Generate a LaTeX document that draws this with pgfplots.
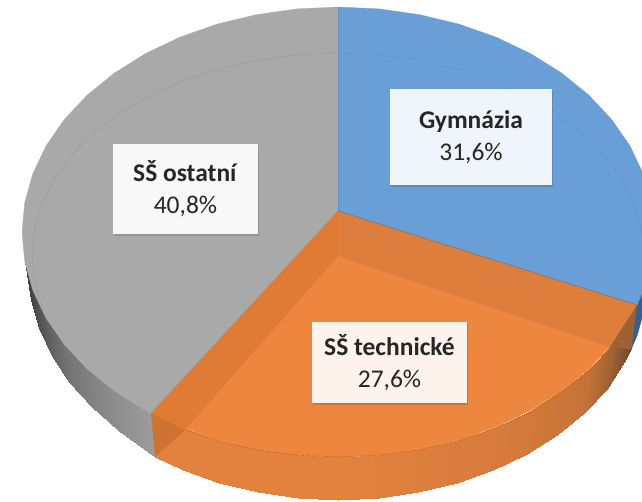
\documentclass[border=0pt]{standalone}
\usepackage{fontspec}
\setmainfont{Carlito}
\usepackage{pgfplots}
\pgfplotsset{compat=1.18}
\usepgfplotslibrary{patchplots}
\usetikzlibrary{shadows}
\definecolor{pieBlue}{HTML}{699FD6}
\definecolor{pieBlueRing}{HTML}{5F96CF}
\definecolor{pieBlueSide}{HTML}{34618F}
\definecolor{pieGray}{HTML}{A9A9A9}
\definecolor{pieGrayRing}{HTML}{9C9C9C}
\definecolor{pieOrange}{HTML}{ED873F}
\definecolor{pieBandL}{HTML}{E07B35}
\definecolor{pieBandR}{HTML}{DD7E3C}
\definecolor{pieRim}{HTML}{D06A22}
\definecolor{pieWallL}{HTML}{CE7231}
\definecolor{pieWallR}{HTML}{9C6236}
\pgfplotsset{
  colormap={sideGray}{rgb255=(64,64,64) rgb255=(156,156,156)},
  colormap={sideOrange}{rgb255=(110,75,45) rgb255=(197,114,56) rgb255=(226,130,62)},
  sideFace/.style={patch, patch type=rectangle, shader=interp, point meta=explicit,
    point meta min=0, point meta max=1}
}
\newcommand{\pielabel}[5]{%
  \node[fill=#1, minimum width=#2pt, minimum height=#3pt, inner sep=0pt, align=center,
    text=black!85, font=\fontsize{25.5}{32}\selectfont,
    drop shadow={shadow xshift=1pt, shadow yshift=-1.5pt, fill=black, opacity=0.13}]
    at (axis cs:#4) {#5};}
\begin{document}
\begin{tikzpicture}
\begin{axis}[
  scale only axis, width=642pt, height=501pt,
  xmin=0, xmax=642, ymin=0, ymax=501, y dir=reverse,
  axis line style={draw=none}, ticks=none
]
% side of the disc, gray part
\addplot[sideFace, colormap name=sideGray] table[meta=c] {
x y c
151 413.3 1
114.6 391.1 .85
118.8 431 .85
155 457 1
114.6 391.1 .85
87.3 369 .7
92 406.5 .7
118.8 431 .85
87.3 369 .7
64.3 344.5 .55
69.5 382 .55
92 406.5 .7
64.3 344.5 .55
46 318.1 .35
51.6 355.5 .35
69.5 382 .55
46 318.1 .35
32.8 290.2 .15
38.6 328 .15
51.6 355.5 .35
32.8 290.2 .15
24.7 261.4 0
30.7 300 0
38.6 328 .15
};
% side of the disc, orange part
\addplot[sideFace, colormap name=sideOrange] table[meta=c] {
x y c
637 305 0
630 318.1 .08
624.4 362.3 .08
631.3 349.3 0
630 318.1 .08
611.7 344.5 .3
606.5 388.5 .3
624.4 362.3 .08
611.7 344.5 .3
588.7 369 .5
584 412.8 .5
606.5 388.5 .3
588.7 369 .5
561.4 391.1 .62
557.2 434.7 .62
584 412.8 .5
561.4 391.1 .62
530.4 410.5 .72
526.7 453.9 .72
557.2 434.7 .62
530.4 410.5 .72
496 426.9 .8
493 470.1 .8
526.7 453.9 .72
496 426.9 .8
458.9 439.9 .85
456.6 483 .85
493 470.1 .8
458.9 439.9 .85
419.8 449.3 .9
418.2 492.4 .9
456.6 483 .85
419.8 449.3 .9
379.2 455.1 .95
378.5 498.1 .95
418.2 492.4 .9
379.2 455.1 .95
338 457 1
338 500 1
378.5 498.1 .95
338 457 1
296.8 455.1 1
297.5 498.1 1
338 500 1
296.8 455.1 1
256.2 449.3 1
257.8 492.4 1
297.5 498.1 1
256.2 449.3 1
217.1 439.9 1
219.4 483 1
257.8 492.4 1
217.1 439.9 1
180 426.9 1
183 470.1 1
219.4 483 1
180 426.9 1
151 413.3 1
155 457 1
183 470.1 1
};
% side of the disc, blue part
\addplot[fill=pieBlueSide, draw=pieBlueSide, line width=0.3pt] coordinates {
  (654,232) (651.3,261.4) (643.2,290.2) (637,305)
  (631.3,349.3) (637.4,334.7) (645.3,306.1) (648,277)
} -- cycle;
% top faces
\addplot[fill=pieBlue, draw=pieBlue, line width=0.3pt] coordinates {
  (338,211) (338,7) (379.2,8.9) (419.8,14.7) (458.9,24.1) (496,37.1) (530.4,53.5)
  (561.4,72.9) (588.7,95) (611.7,119.5) (630,145.9) (643.2,173.8) (651.3,202.6)
  (654,232) (651.3,261.4) (643.2,290.2) (637,305)
} -- cycle;
\addplot[fill=pieGray, draw=pieGray, line width=0.3pt] coordinates {
  (338,211) (151,413.3) (145.6,410.5) (114.6,391.1) (87.3,369) (64.3,344.5) (46,318.1)
  (32.8,290.2) (24.7,261.4) (22,232) (24.7,202.6) (32.8,173.8) (46,145.9) (64.3,119.5)
  (87.3,95) (114.6,72.9) (145.6,53.5) (180,37.1) (217.1,24.1) (256.2,14.7) (296.8,8.9)
  (338,7)
} -- cycle;
\addplot[fill=pieOrange, draw=pieOrange, line width=0.3pt] coordinates {
  (338,211) (637,305) (630,318.1) (611.7,344.5) (588.7,369) (561.4,391.1) (530.4,410.5)
  (496,426.9) (458.9,439.9) (419.8,449.3) (379.2,455.1) (338,457) (296.8,455.1)
  (256.2,449.3) (217.1,439.9) (180,426.9) (151,413.3)
} -- cycle;
% darker bands of the orange slice, where its walls show through
\addplot[fill=pieBandL, draw=none] coordinates {(338,211) (338,256) (185,429.9) (151,413.3)} -- cycle;
\addplot[fill=pieBandR, draw=none] coordinates {(338,211) (637,305) (610,347) (338,256)} -- cycle;
\addplot[fill=pieWallL, draw=none] coordinates {(151,413.3) (155,457) (185,429.9)} -- cycle;
\addplot[fill=pieWallR, draw=none] coordinates {(637,305) (631.3,349.3) (610,347)} -- cycle;
% faint inner ring
\addplot[draw=pieBlueRing, line width=0.5pt] coordinates {
  (338,53) (377.9,54.7) (417.2,59.9) (455.1,68.4) (491,80.1) (524.3,94.7) (554.4,112.2)
  (580.8,132) (603,154) (620.7,177.7) (633.6,202.7) (641.4,228.6) (644,255)
};
\addplot[draw=pieGrayRing, line width=0.5pt] coordinates {
  (42.4,307.7) (34.6,281.4) (32,255) (34.6,228.6) (42.4,202.7) (55.3,177.7) (73,154)
  (95.2,132) (121.6,112.2) (151.7,94.7) (185,80.1) (220.9,68.4) (258.8,59.9) (298.1,54.7)
  (338,53)
};
\addplot[draw=pieRim, line width=0.6pt] coordinates {
  (610,347) (603,356) (580.8,378) (554.4,397.8) (524.3,415.3) (491,429.9) (455.1,441.6)
  (417.2,450.1) (377.9,455.3) (338,457) (298.1,455.3) (258.8,450.1) (220.9,441.6) (185,429.9)
};
% slice borders
\addplot[draw=pieBlueRing!70!gray, line width=0.6pt] coordinates {(338,7) (338,211)};
\addplot[draw=pieBlueSide!60!pieBandR, line width=0.5pt] coordinates {(338,211) (637,305)};
\addplot[draw=pieGrayRing!60!pieBandL, line width=0.5pt] coordinates {(338,211) (151,413.3)};
% data labels
\pielabel{white!90!pieBlue}{162}{96}{471,137}{\textbf{Gymnázia}\\31,6\%}
\pielabel{white!92!pieGray}{145}{90}{185.5,189}{\textbf{SŠ ostatní}\\40,8\%}
\pielabel{white!90!pieOrange}{155}{81}{389.5,362.5}{\textbf{SŠ technické}\\27,6\%}
\end{axis}
\end{tikzpicture}
\end{document}
